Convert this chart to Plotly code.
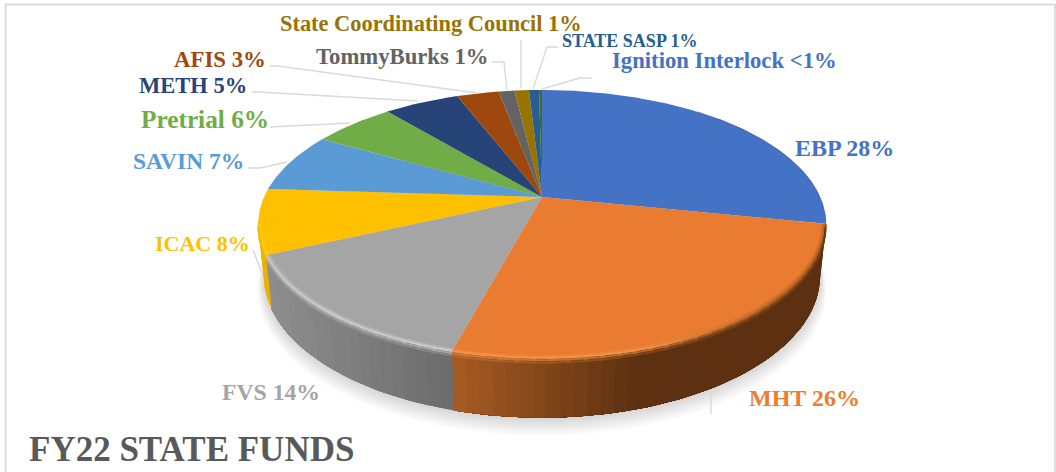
import math
from collections import defaultdict
import plotly.graph_objects as go

# FY22 state fund shares, percent
names = ["EBP", "MHT", "FVS", "ICAC", "SAVIN", "Pretrial", "METH", "AFIS",
         "TommyBurks", "State Coordinating Council", "STATE SASP", "Ignition Interlock"]
shares = [28.2, 26.0, 14.0, 7.8, 7.2, 5.7, 5.2, 2.9, 1.1, 1.0, 0.7, 0.2]
share_text = ["28%", "26%", "14%", "8%", "7%", "6%", "5%", "3%", "1%", "1%", "1%", "<1%"]
slice_colors = ["#4472C4", "#E97C30", "#A5A5A5", "#FFC000", "#5B9BD5", "#70AD47",
                "#264478", "#9E480E", "#636363", "#997300", "#255E91", "#43682B"]
label_colors = ["#4472C4", "#ED7D31", "#A5A5A5", "#FFC000", "#5B9BD5", "#70AD47",
                "#264478", "#9E480E", "#636363", "#997300", "#255E91", "#4472C4"]
title_text = "FY22 STATE FUNDS"

# Label placement: left edge and vertical centre, with font size
label_x = [793, 747, 220, 153, 131, 139, 137, 172, 314, 278, 560, 610]
label_y = [148, 398, 392, 243, 161, 119, 85, 59, 56, 23, 41, 60]
label_size = [24, 24, 23.7, 22, 23.5, 25.3, 22.5, 22.8, 22.7, 22.4, 18, 22.7]

# Leader line bends from the label side toward the slice; the last point lands on the rim
leaders = {
    1: [(711, 392), (711, 414)],
    3: [(253, 250), (262, 273)],
    4: [(248, 168), (260, 168), (287, 162)],
    5: [(270, 127), (350, 123)],
    6: [(252, 92), (258, 92), (418, 101)],
    7: [(270, 66), (278, 66), (477, 93)],
    8: [(492, 62), (504, 62), (507, 90)],
    9: [(521, 40), (521, 88)],
    10: [(558, 47), (547, 47), (533, 89)],
    11: [(592, 78), (580, 78), (542, 89)],
}

# Projection of the tilted disc onto page pixels
CX, CY = 542.0, 197.0
RX, RY = 278.0, 128.6
PERSP = 0.2015
DEPTH = 52.0
BOTTOM_SHIFT = 0.02


def top_point(theta, r=1.0):
    u, v = r * math.sin(theta), r * math.cos(theta)
    w = 1 + PERSP * v
    return CX + RX * u / w, CY - RY * v / w


def wall_point(theta, frac=1.0, r=1.0):
    u, v = r * math.sin(theta), r * math.cos(theta)
    w = 1 + PERSP * v + BOTTOM_SHIFT * frac
    return CX + RX * u / w, CY + (-RY * v + DEPTH * frac) / w


def mix(a, b, t):
    t = max(0.0, min(1.0, t))
    return tuple(a[i] + (b[i] - a[i]) * t for i in range(3))


def hex_rgb(h):
    return tuple(int(h[i:i + 2], 16) for i in (1, 3, 5))


def css(c):
    return f"rgb({int(c[0])},{int(c[1])},{int(c[2])})"


def arange(a, b, step):
    n = max(2, int(abs(b - a) / step) + 2)
    return [a + (b - a) * i / (n - 1) for i in range(n)]


def wall_shade(idx, x):
    if idx == 1:
        return mix((168, 92, 36), (92, 48, 16), (x - 451) / 190)
    if idx == 2:
        return mix((142, 142, 142), (108, 108, 108), (x - 268) / 183)
    if idx == 3:
        return (238, 176, 0)
    return hex_rgb(slice_colors[idx])


def rim_shade(idx, x):
    if idx == 1:
        return mix((244, 146, 70), (150, 82, 30), (x - 640) / 180)
    if idx == 2:
        return (204, 204, 204)
    if idx == 3:
        return (255, 208, 30)
    return hex_rgb(slice_colors[idx])


total = sum(shares)
edges = [0.0]
for s in shares:
    edges.append(edges[-1] + 2 * math.pi * s / total)

fig = go.Figure()


def polygon(xs, ys, color):
    fig.add_trace(go.Scatter(x=xs, y=ys, mode="lines", fill="toself", fillcolor=color,
                             line=dict(color="rgba(0,0,0,0)", width=0), hoverinfo="skip",
                             showlegend=False))


FRONT_START = math.acos(-PERSP)
FRONT_END = 2 * math.pi - FRONT_START

# Soft shadow beneath the disc
ring = arange(0, 2 * math.pi, 0.04)
for i in range(1, 11):
    pts = [wall_point(t, 1.0, 1 + 0.0022 * i) for t in ring]
    polygon([p[0] for p in pts], [p[1] + 1.35 * i for p in pts], "rgba(0,0,0,0.016)")

# Side wall: overlapping strips, each reaching to its slice's far end so no seams show
for idx in range(len(shares)):
    a, b = max(edges[idx], FRONT_START - 0.02), min(edges[idx + 1], FRONT_END + 0.02)
    if b <= a:
        continue
    grid = arange(a, b, 0.04)
    for t0, t1 in zip(grid[:-1], grid[1:]):
        mid_x = (top_point(t0)[0] + top_point(t1)[0]) / 2
        arc = arange(t0, b, 0.03)
        upper = [top_point(t) for t in arc]
        lower = [wall_point(t) for t in reversed(arc)]
        pts = upper + lower
        polygon([q[0] for q in pts], [q[1] for q in pts], css(wall_shade(idx, mid_x)))

# Top face of every slice
for idx in range(len(shares)):
    pts = [top_point(t) for t in arange(edges[idx], edges[idx + 1], 0.01)]
    polygon([CX] + [p[0] for p in pts] + [CX], [CY] + [p[1] for p in pts] + [CY],
            slice_colors[idx])

# Bevel along the front rim and a thin dark edge on the back-right rim
bevel = defaultdict(lambda: ([], []))
for idx in range(len(shares)):
    a, b = max(edges[idx], FRONT_START), min(edges[idx + 1], FRONT_END)
    if b <= a:
        continue
    base = hex_rgb(slice_colors[idx])
    grid = arange(a, b, 0.05)
    for t0, t1 in zip(grid[:-1], grid[1:]):
        t1 = min(t1 + 0.012, b)
        mid_x = top_point((t0 + t1) / 2)[0]
        rim = rim_shade(idx, mid_x)
        wall = wall_shade(idx, mid_x)
        for r, weight in ((0.988, 0.25), (0.994, 0.6), (1.0, 1.0)):
            key = css(mix(base, rim, weight))
            p0, p1 = top_point(t0, r), top_point(t1, r)
            bevel[key][0].extend([p0[0], p1[0], None])
            bevel[key][1].extend([p0[1], p1[1], None])
        for frac, weight in ((0.035, 0.6), (0.075, 0.25)):
            key = css(mix(wall, rim, weight))
            p0, p1 = wall_point(t0, frac), wall_point(t1, frac)
            bevel[key][0].extend([p0[0], p1[0], None])
            bevel[key][1].extend([p0[1], p1[1], None])
for key, (xs, ys) in bevel.items():
    fig.add_trace(go.Scatter(x=xs, y=ys, mode="lines", line=dict(color=key, width=1.8),
                             hoverinfo="skip", showlegend=False))

edge_pts = [top_point(t) for t in arange(0.7, FRONT_START, 0.02)]
fig.add_trace(go.Scatter(x=[p[0] for p in edge_pts], y=[p[1] for p in edge_pts], mode="lines",
                         line=dict(color="rgba(50,50,70,0.5)", width=1), hoverinfo="skip",
                         showlegend=False))

# Leader lines
for idx, path in leaders.items():
    fig.add_trace(go.Scatter(x=[p[0] for p in path], y=[p[1] for p in path], mode="lines",
                             line=dict(color="#D9D9D9", width=1.4), hoverinfo="skip",
                             showlegend=False))

# Category labels
for i, name in enumerate(names):
    fig.add_annotation(x=label_x[i], y=label_y[i], xanchor="left", yanchor="middle",
                       text=f"<b>{name} {share_text[i]}</b>", showarrow=False,
                       font=dict(family="Liberation Serif", size=label_size[i], color=label_colors[i]))

fig.add_annotation(x=27, y=449, xanchor="left", yanchor="middle", text=f"<b>{title_text}</b>",
                   showarrow=False, font=dict(family="Liberation Serif", size=35, color="#595959"))

# Chart frame: top, left and right edges
frame = dict(type="line", line=dict(color="#DCDCDC", width=2), layer="below")
fig.add_shape(x0=5, x1=1055, y0=4.5, y1=4.5, **frame)
fig.add_shape(x0=5.5, x1=5.5, y0=4, y1=472, **frame)
fig.add_shape(x0=1055, x1=1055, y0=4, y1=472, **frame)

fig.update_layout(
    width=1056, height=472, margin=dict(l=0, r=0, t=0, b=0),
    paper_bgcolor="white", plot_bgcolor="white", showlegend=False,
    xaxis=dict(range=[0, 1056], visible=False, fixedrange=True),
    yaxis=dict(range=[472, 0], visible=False, fixedrange=True),
)
fig.write_html("out.html", config={"displayModeBar": False})
